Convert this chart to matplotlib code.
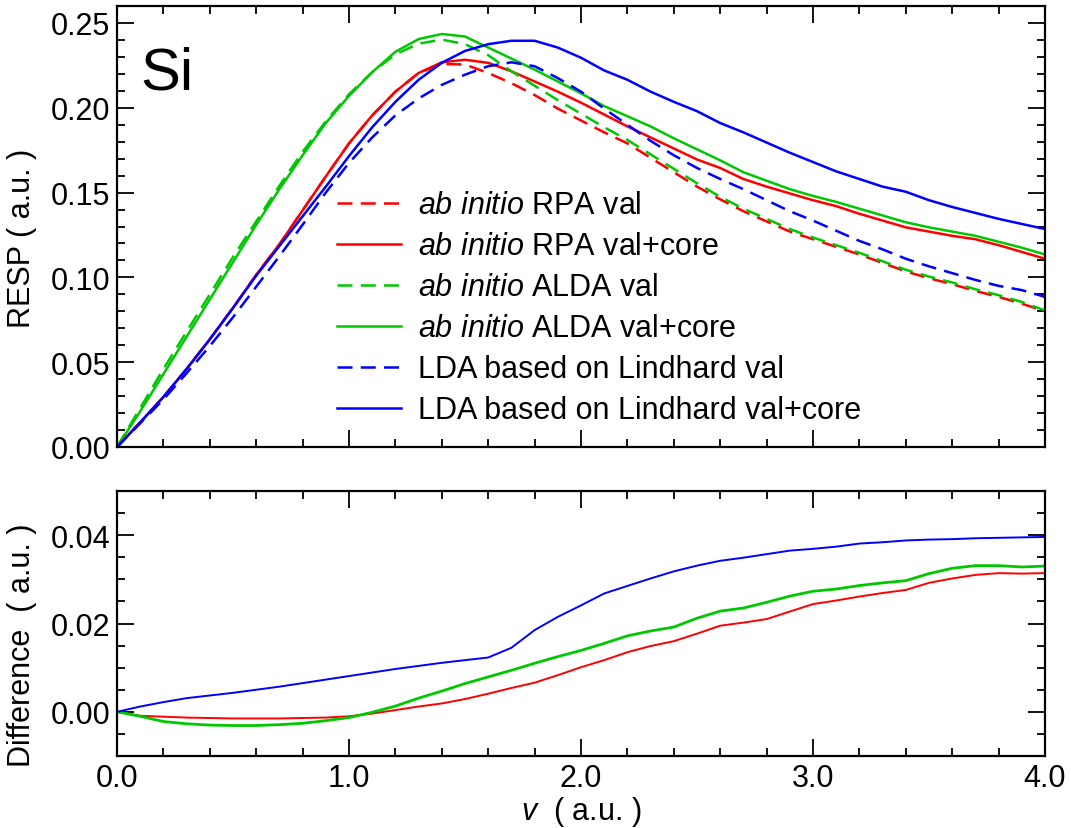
import matplotlib
matplotlib.use('Agg')
import matplotlib.pyplot as plt
from matplotlib.ticker import MultipleLocator, FormatStrFormatter

plt.rcParams['font.family'] = ['Liberation Sans', 'DejaVu Sans']
plt.rcParams['mathtext.fontset'] = 'custom'
plt.rcParams['mathtext.rm'] = 'Liberation Sans'
plt.rcParams['mathtext.it'] = 'Liberation Sans:italic'

# velocity grid (a.u.)
v = [0.0, 0.1, 0.2, 0.3, 0.4, 0.5, 0.6, 0.7, 0.8, 0.9,
     1.0, 1.1, 1.2, 1.3, 1.4, 1.5, 1.6, 1.7, 1.8, 1.9,
     2.0, 2.1, 2.2, 2.3, 2.4, 2.5, 2.6, 2.7, 2.8, 2.9,
     3.0, 3.1, 3.2, 3.3, 3.4, 3.5, 3.6, 3.7, 3.8, 3.9, 4.0]

# top panel: RESP
rpa_val = [0.0, 0.0145, 0.0295, 0.046, 0.0635, 0.082, 0.1015, 0.1195, 0.1395, 0.1595,
           0.179, 0.1955, 0.2095, 0.2205, 0.2258, 0.2255, 0.2205, 0.2145, 0.2075, 0.1995,
           0.1925, 0.1855, 0.179, 0.1705, 0.162, 0.1535, 0.146, 0.139, 0.133, 0.127,
           0.1225, 0.118, 0.1135, 0.1085, 0.1035, 0.0995, 0.096, 0.092, 0.0885, 0.0845, 0.080]
rpa_core = [0.0, 0.0145, 0.0295, 0.046, 0.0635, 0.082, 0.1015, 0.1195, 0.1395, 0.1595,
            0.179, 0.1955, 0.2095, 0.2205, 0.2268, 0.2283, 0.2265, 0.2215, 0.2155, 0.2095,
            0.203, 0.196, 0.189, 0.1825, 0.176, 0.1695, 0.1645, 0.158, 0.1535, 0.1495,
            0.1455, 0.142, 0.1375, 0.1335, 0.1295, 0.127, 0.1245, 0.1225, 0.119, 0.115, 0.111]
alda_val = [0.0, 0.023, 0.046, 0.068, 0.090, 0.112, 0.133, 0.154, 0.174, 0.192,
            0.208, 0.221, 0.2315, 0.2378, 0.2402, 0.2375, 0.231, 0.2215, 0.213, 0.2045,
            0.1965, 0.1885, 0.181, 0.1725, 0.164, 0.1555, 0.1475, 0.1405, 0.1345, 0.1285,
            0.1235, 0.119, 0.1145, 0.1095, 0.1045, 0.1005, 0.097, 0.093, 0.0895, 0.0855, 0.0805]
alda_core = [0.0, 0.021, 0.043, 0.065, 0.087, 0.109, 0.131, 0.152, 0.172, 0.191,
             0.207, 0.221, 0.233, 0.2405, 0.2435, 0.242, 0.2355, 0.229, 0.2225, 0.2155,
             0.2085, 0.201, 0.195, 0.189, 0.182, 0.1755, 0.169, 0.162, 0.157, 0.152,
             0.148, 0.1445, 0.1405, 0.1365, 0.1325, 0.1295, 0.127, 0.1245, 0.121, 0.1175, 0.1135]
lda_val = [0.0, 0.014, 0.028, 0.0435, 0.0595, 0.0765, 0.0945, 0.1125, 0.131, 0.150,
           0.1675, 0.1825, 0.1955, 0.2055, 0.2135, 0.2195, 0.2245, 0.2268, 0.2245, 0.2175,
           0.2095, 0.1995, 0.190, 0.1805, 0.172, 0.1645, 0.158, 0.152, 0.1455, 0.139,
           0.1335, 0.1275, 0.1215, 0.1165, 0.111, 0.1065, 0.1025, 0.0985, 0.095, 0.0925, 0.0885]
lda_core = [0.0, 0.0145, 0.0295, 0.046, 0.0635, 0.082, 0.101, 0.1185, 0.136, 0.1535,
            0.1715, 0.1885, 0.2035, 0.2165, 0.2265, 0.2335, 0.2375, 0.2395, 0.2395, 0.2355,
            0.2295, 0.222, 0.2165, 0.2095, 0.2035, 0.198, 0.191, 0.1855, 0.1795, 0.1735,
            0.168, 0.1625, 0.158, 0.1535, 0.1505, 0.1455, 0.1415, 0.138, 0.1345, 0.1315, 0.1285]

# bottom panel: difference (val+core minus val)
diff_rpa = [0.0, -0.0009, -0.0011, -0.0013, -0.0014, -0.0015, -0.0015, -0.0015, -0.0014, -0.0013,
            -0.0010, -0.0004, 0.0004, 0.0012, 0.0019, 0.0029, 0.0041, 0.0054, 0.0066, 0.0083,
            0.0101, 0.0117, 0.0135, 0.0149, 0.0160, 0.0177, 0.0195, 0.0202, 0.0210, 0.0227,
            0.0244, 0.0252, 0.0261, 0.0269, 0.0276, 0.0292, 0.0302, 0.0310, 0.0314, 0.0313, 0.0314]
diff_alda = [0.0, -0.0010, -0.0022, -0.0027, -0.0030, -0.0031, -0.0031, -0.0029, -0.0026, -0.0020,
             -0.0013, -0.0001, 0.0013, 0.0031, 0.0047, 0.0064, 0.0079, 0.0094, 0.0110, 0.0125,
             0.0139, 0.0155, 0.0172, 0.0183, 0.0192, 0.0212, 0.0228, 0.0235, 0.0248, 0.0262,
             0.0273, 0.0278, 0.0286, 0.0292, 0.0297, 0.0313, 0.0325, 0.0331, 0.0331, 0.0328, 0.0330]
diff_lda = [0.0, 0.0012, 0.0022, 0.0031, 0.0037, 0.0043, 0.0050, 0.0057, 0.0065, 0.0073,
            0.0081, 0.0089, 0.0097, 0.0104, 0.0111, 0.0117, 0.0123, 0.0145, 0.0185, 0.0215,
            0.0241, 0.0268, 0.0285, 0.0302, 0.0318, 0.0331, 0.0342, 0.0349, 0.0357, 0.0365,
            0.0369, 0.0374, 0.0381, 0.0384, 0.0388, 0.0390, 0.0391, 0.0393, 0.0394, 0.0395, 0.0396]

labels = [r'$\it{ab\ initio}$ RPA val',
          r'$\it{ab\ initio}$ RPA val+core',
          r'$\it{ab\ initio}$ ALDA val',
          r'$\it{ab\ initio}$ ALDA val+core',
          'LDA based on Lindhard val',
          'LDA based on Lindhard val+core']

red = '#ff0000'
green = '#00c800'
blue = '#0000ff'
dash = (0, (6, 3.3))
fs = 22

fig = plt.figure(figsize=(10.71, 8.29), dpi=100)
W, H = 1071., 829.
ax1 = fig.add_axes([117/W, 1-448/H, 928/W, 441/H])
ax2 = fig.add_axes([117/W, 1-757/H, 928/W, 265/H])

#top panel
lw = 1.8
ax1.plot(v, rpa_val, color=red, lw=lw, ls=dash, label=labels[0])
ax1.plot(v, rpa_core, color=red, lw=lw, label=labels[1])
ax1.plot(v, alda_val, color=green, lw=lw, ls=dash, label=labels[2])
ax1.plot(v, alda_core, color=green, lw=lw, label=labels[3])
ax1.plot(v, lda_val, color=blue, lw=lw, ls=dash, label=labels[4])
ax1.plot(v, lda_core, color=blue, lw=lw, label=labels[5])

ax1.set_xlim(0, 4)
ax1.set_ylim(0, 0.26)
ax1.yaxis.set_major_locator(MultipleLocator(0.05))
ax1.yaxis.set_minor_locator(MultipleLocator(0.01))
ax1.yaxis.set_major_formatter(FormatStrFormatter('%.2f'))
ax1.set_xticklabels([])
ax1.text(0.025, 0.812, 'Si', transform=ax1.transAxes, fontsize=43, va='baseline')

ax1.legend(loc='upper left', bbox_to_anchor=(0.237, 0.582), frameon=False, fontsize=fs,
           handlelength=2.1, handletextpad=0.55, labelspacing=0.36, borderpad=0, borderaxespad=0)

#bottom panel
ax2.plot(v, diff_rpa, color=red, lw=1.4)
ax2.plot(v, diff_alda, color=green, lw=2.0)
ax2.plot(v, diff_lda, color=blue, lw=1.4)
ax2.set_xlim(0, 4)
ax2.set_ylim(-0.01, 0.05)
ax2.yaxis.set_major_locator(MultipleLocator(0.02))
ax2.yaxis.set_minor_locator(MultipleLocator(0.005))
ax2.yaxis.set_major_formatter(FormatStrFormatter('%.2f'))
ax2.xaxis.set_major_formatter(FormatStrFormatter('%.1f'))
ax2.set_xlabel(r'$v$  ( a.u. )', fontsize=fs, labelpad=1)

for ax in [ax1, ax2]:
    for axis in ['top', 'bottom', 'left', 'right']:
        ax.spines[axis].set_linewidth(1.6)
    ax.xaxis.set_major_locator(MultipleLocator(1.0))
    ax.xaxis.set_minor_locator(MultipleLocator(0.2))
    ax.tick_params(which='both', direction='in', top=True, right=True, width=1.3)
    ax.tick_params(which='major', length=12, labelsize=fs, pad=5)
    ax.tick_params(which='minor', length=6)

fig.text(22/W, 1-238/H, 'RESP ( a.u. )', rotation=90, ha='center', va='center', fontsize=fs)
fig.text(22/W, 1-645/H, 'Difference  ( a.u. )', rotation=90, ha='center', va='center', fontsize=fs)

plt.savefig('out.png', dpi=100)
